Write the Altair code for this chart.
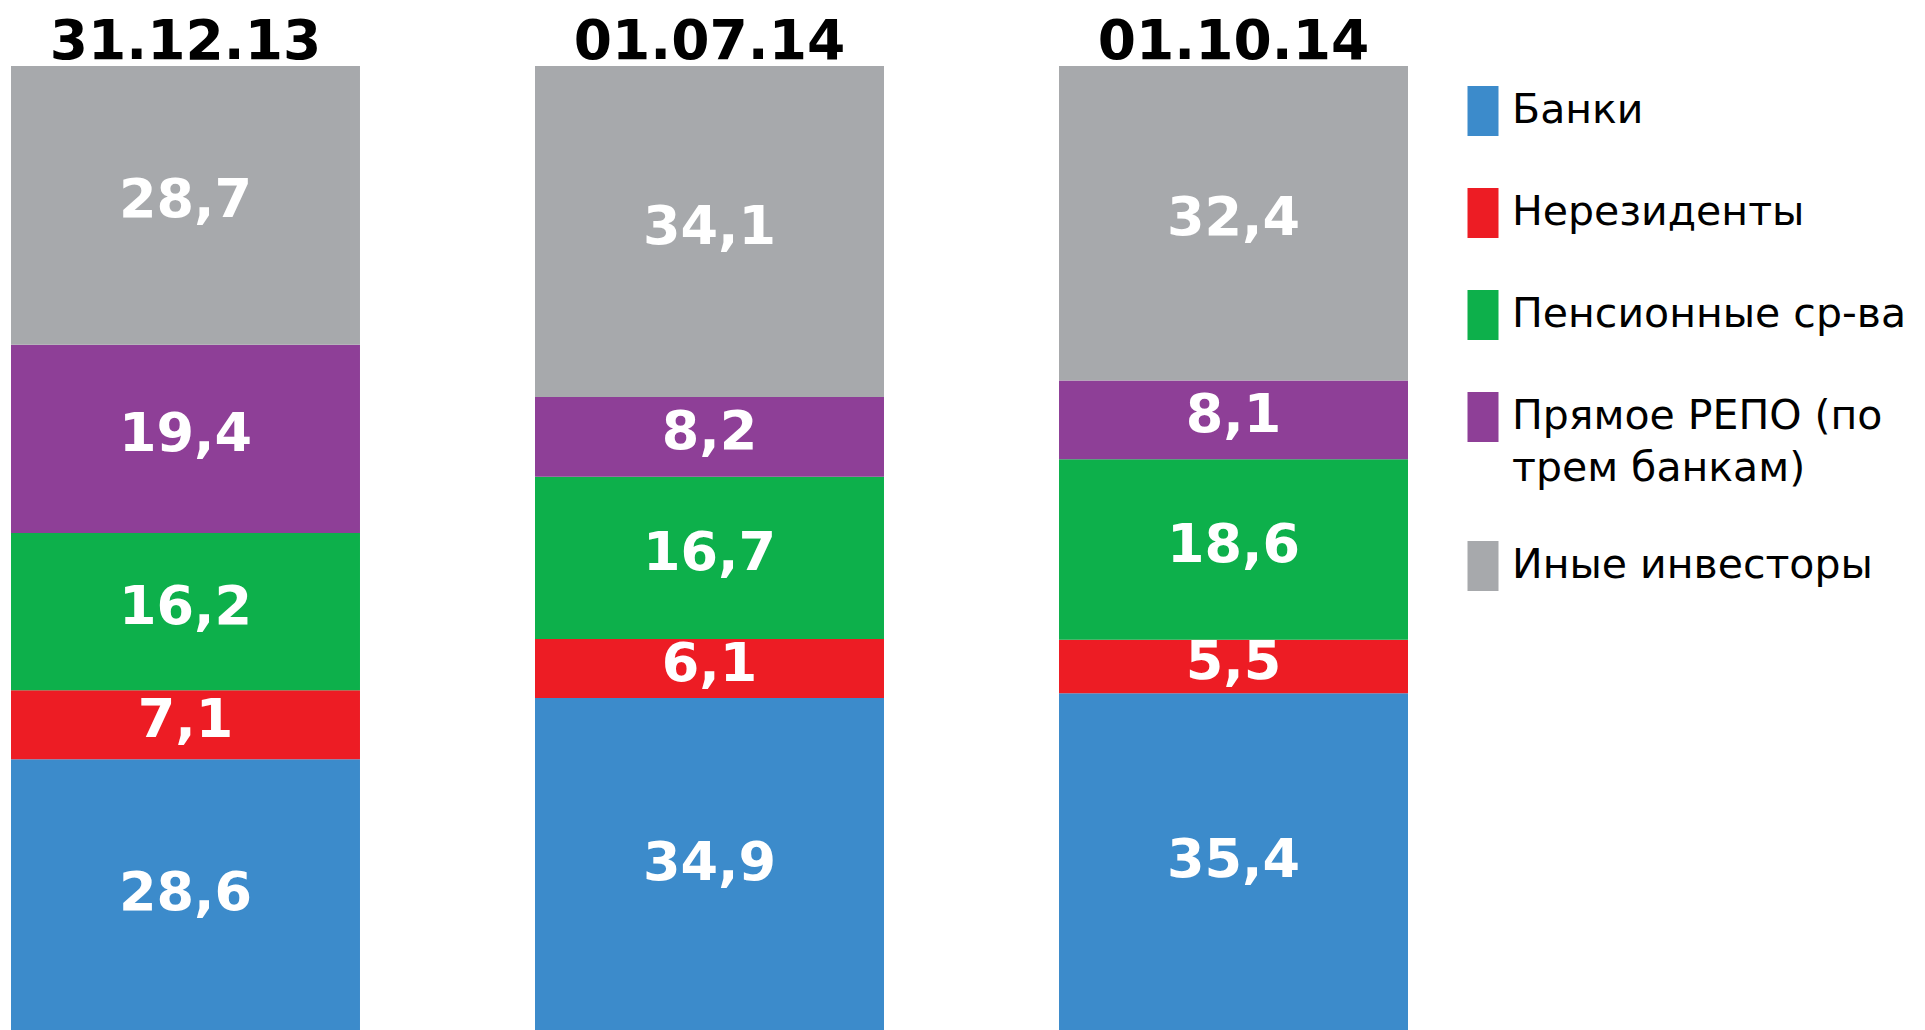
import altair as alt
import pandas as pd

dates = ["31.12.13", "01.07.14", "01.10.14"]
categories = ["Банки", "Нерезиденты", "Пенсионные ср-ва",
              "Прямое РЕПО (по трем банкам)", "Иные инвесторы"]
colors = ["#3C8BCB", "#ED1C24", "#0DB04B", "#8E3F97", "#A7A9AC"]

banks = [28.6, 34.9, 35.4]
nonresidents = [7.1, 6.1, 5.5]
pension = [16.2, 16.7, 18.6]
repo = [19.4, 8.2, 8.1]
other = [28.7, 34.1, 32.4]

series = [banks, nonresidents, pension, repo, other]
rows = []
for ci, (cat, vals) in enumerate(zip(categories, series)):
    for di, d in enumerate(dates):
        rows.append({"date": d, "cat": cat, "idx": ci, "value": vals[di]})
df = pd.DataFrame(rows)

FONT = "DejaVu Sans"

base = alt.Chart(df).transform_stack(
    stack="value", groupby=["date"], as_=["v0", "v1"],
    sort=[alt.SortField("idx", order="ascending")]
).transform_calculate(
    mid="(datum.v0 + datum.v1) / 2",
    lbl="replace(format(datum.value, '.1f'), '.', ',')"
)

xaxis = alt.Axis(orient="top", title=None, domain=False, ticks=False,
                 grid=False, labelAngle=0, labelFontSize=55,
                 labelFontWeight="bold", labelFont=FONT,
                 labelColor="#000000", labelPadding=8,
                 labelBaseline="alphabetic", labelLimit=600)
xscale = alt.Scale(paddingInner=0.334, paddingOuter=0)

yscale = alt.Scale(domain=[0, 100], nice=False, zero=True)

bars = base.mark_bar().encode(
    x=alt.X("date:N", sort=dates, scale=xscale, axis=xaxis),
    y=alt.Y("v0:Q", scale=yscale, axis=None),
    y2="v1:Q",
    color=alt.Color("cat:N", sort=categories,
                    scale=alt.Scale(domain=categories, range=colors),
                    legend=alt.Legend(
                        title=None, orient="none", legendX=1447, legendY=20,
                        symbolType="M-0.62,-1H0.62V1H-0.62Z", symbolSize=2500,
                        symbolStrokeWidth=0, symbolOpacity=1,
                        labelFont=FONT, labelFontSize=41, labelColor="#000000",
                        labelLimit=600, labelOffset=4, rowPadding=52, padding=0,
                        labelExpr="datum.label == 'Прямое РЕПО (по трем банкам)' ? ['Прямое РЕПО (по', 'трем банкам)'] : datum.label",
                    )),
    order=alt.Order("idx:Q"),
)

labels = base.mark_text(font=FONT, fontSize=54, fontWeight="bold", color="white",
                        baseline="middle", dy=-4).encode(
    x=alt.X("date:N", sort=dates, scale=xscale, axis=xaxis),
    y=alt.Y("mid:Q", scale=yscale, axis=None),
    text="lbl:N",
)

chart = alt.layer(bars, labels).properties(
    width=1397, height=971,
    autosize="none",
    padding={"top": 58, "left": 3, "right": 505, "bottom": 0},
).configure(
    font=FONT,
    view={"stroke": "transparent"},
    style={"guide-label": {"lineHeight": 52}},
)

chart.save("out.html", embed_options={"renderer": "svg", "actions": False})
